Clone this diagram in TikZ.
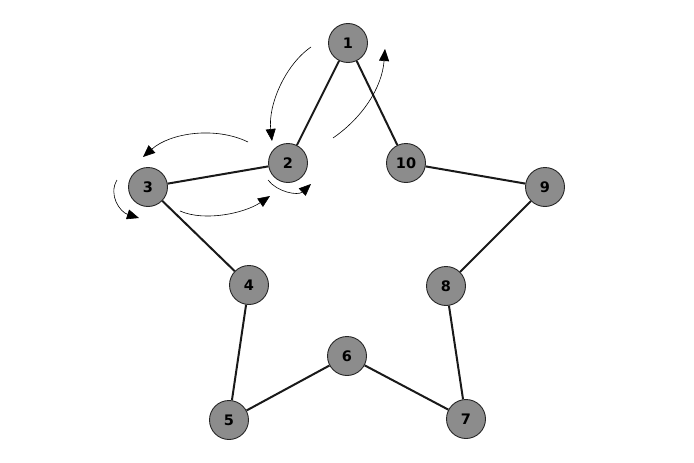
\documentclass[tikz,border=0pt]{standalone}
\usepackage{fontspec}
\setmainfont{DejaVu Sans}
\usetikzlibrary{arrows.meta}
\begin{document}
\begin{tikzpicture}[x=1pt,y=-1pt,
  vert/.style={circle,draw=black!85,line width=0.9pt,fill=black!45,minimum size=39pt,inner sep=0pt,font=\fontsize{14.5}{14.5}\selectfont\bfseries},
  edge/.style={line width=2pt,black!90},
  move/.style={line width=0.6pt,-{Triangle[length=12pt,width=10pt]}}]
\useasboundingbox (0,0) rectangle (694,463);
\node[vert] (n1) at (348,43) {1};
\node[vert] (n2) at (288,163) {2};
\node[vert] (n3) at (148,187) {3};
\node[vert] (n4) at (249,285) {4};
\node[vert] (n5) at (229,420) {5};
\node[vert] (n6) at (347,356) {6};
\node[vert] (n7) at (466,419) {7};
\node[vert] (n8) at (446,286) {8};
\node[vert] (n9) at (545,187) {9};
\node[vert] (n10) at (406,163) {10};
\draw[edge] (n1) -- (n2);
\draw[edge] (n2) -- (n3);
\draw[edge] (n3) -- (n4);
\draw[edge] (n4) -- (n5);
\draw[edge] (n5) -- (n6);
\draw[edge] (n6) -- (n7);
\draw[edge] (n7) -- (n8);
\draw[edge] (n8) -- (n9);
\draw[edge] (n9) -- (n10);
\draw[edge] (n10) -- (n1);
\coordinate (a1) at (311,47); \coordinate (a2) at (272,141);
\coordinate (b1) at (333,138); \coordinate (b2) at (385,49);
\coordinate (c1) at (248,142); \coordinate (c2) at (143,157);
\coordinate (d1) at (117,180); \coordinate (d2) at (139,218);
\coordinate (e1) at (180,211); \coordinate (e2) at (270,196);
\coordinate (f1) at (268,180); \coordinate (f2) at (311,184);
\draw[move] (a1) .. controls (285,65) and (268,105) .. (a2);
\draw[move] (b1) .. controls (362,118) and (382,88) .. (b2);
\draw[move] (c1) .. controls (215,126) and (170,133) .. (c2);
\draw[move] (d1) .. controls (108,195) and (120,212) .. (d2);
\draw[move] (e1) .. controls (205,222) and (245,213) .. (e2);
\draw[move] (f1) .. controls (277,192) and (298,196) .. (f2);
\end{tikzpicture}
\end{document}
